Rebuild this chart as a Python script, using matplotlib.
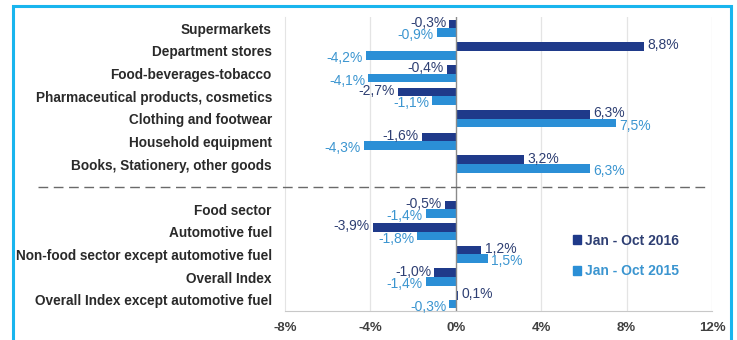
import numpy as np
import matplotlib
matplotlib.use('Agg')
import matplotlib.pyplot as plt
from matplotlib.lines import Line2D
from matplotlib.patches import Rectangle, Patch

plt.rcParams['font.family'] = ['Liberation Sans', 'DejaVu Sans']

categories = ['Supermarkets', 'Department stores', 'Food-beverages-tobacco',
              'Pharmaceutical products, cosmetics', 'Clothing and footwear',
              'Household equipment', 'Books, Stationery, other goods',
              'Food sector', 'Automotive fuel',
              'Non-food sector except automotive fuel', 'Overall Index',
              'Overall Index except automotive fuel']
v2016 = [-0.3, 8.8, -0.4, -2.7, 6.3, -1.6, 3.2, -0.5, -3.9, 1.2, -1.0, 0.1]
v2015 = [-0.9, -4.2, -4.1, -1.1, 7.5, -4.3, 6.3, -1.4, -1.8, 1.5, -1.4, -0.3]
series_names = ['Jan - Oct 2016', 'Jan - Oct 2015']
xticks = [-8, -4, 0, 4, 8, 12]

dark = '#1f3a8a'
light = '#2b8fd6'
dark_txt = '#2e3f73'
light_txt = '#3b95d0'

# slot positions, with an empty slot between the two groups
pos = np.array([i if i < 7 else i + 1 for i in range(len(categories))], dtype=float)
h = 0.38

fig = plt.figure(figsize=(7.37, 3.40), dpi=100)
ax = fig.add_axes([285 / 737, 1 - 311 / 340, 427 / 737, 294 / 340])

ax.barh(pos - h / 2, v2016, height=h, color=dark, zorder=3)
ax.barh(pos + h / 2, v2015, height=h, color=light, zorder=3)


def fmt(v):
    return ('%.1f%%' % v).replace('.', ',')


for y, a, b in zip(pos, v2016, v2015):
    for v, yy, c, dy in ((a, y - h / 2, dark_txt, -0.05), (b, y + h / 2, light_txt, 0.12)):
        if v >= 0:
            ax.text(v + 0.15, yy + dy, fmt(v), ha='left', va='center', color=c, fontsize=10, zorder=4)
        else:
            ax.text(v - 0.15, yy + dy, fmt(v), ha='right', va='center', color=c, fontsize=10, zorder=4)

ax.set_xlim(-8, 12)
ax.set_ylim(12.5, -0.5)
ax.set_xticks(xticks)
ax.set_xticklabels(['%d%%' % t for t in xticks], fontsize=9.5, fontweight='bold', color='#404040')
ax.set_yticks(pos)
ax.set_yticklabels(categories, fontsize=9.8, fontweight='bold', color='#2a2a2a')
ax.tick_params(axis='y', length=0, pad=9.5)
ax.tick_params(axis='x', length=0, pad=8)
for t in xticks:
    if t not in (-8, 0):
        ax.axvline(t, color='#e4e4e4', lw=0.9, zorder=1)
ax.axvline(0, color='#8a8a8a', lw=1.0, zorder=4)
for s in ('top', 'right'):
    ax.spines[s].set_visible(False)
ax.spines['left'].set_color('#e4e4e4')
ax.spines['bottom'].set_color('#c8c8c8')

# separator between the two groups
fig.add_artist(Line2D([38 / 737, 705 / 737], [1 - 187 / 340] * 2, transform=fig.transFigure,
                      color='#6a6a6a', lw=1.0, dashes=(7, 4)))

handles = [Patch(color=dark), Patch(color=light)]
leg = ax.legend(handles, series_names, loc='center left', bbox_to_anchor=(0.645, 0.187),
                frameon=False, handlelength=0.6, handleheight=0.6, handletextpad=0.3,
                labelspacing=1.2, prop={'size': 10, 'weight': 'bold'})
for txt, c in zip(leg.get_texts(), (dark_txt, light_txt)):
    txt.set_color(c)

# cyan frame around the chart
fig.add_artist(Rectangle((12.5 / 737, -0.1), (731 - 12.5) / 737, 1.1 - 6.5 / 340,
                         transform=fig.transFigure, fill=False, edgecolor='#19b5ee', lw=2.2))

fig.savefig('out.png', dpi=100)
